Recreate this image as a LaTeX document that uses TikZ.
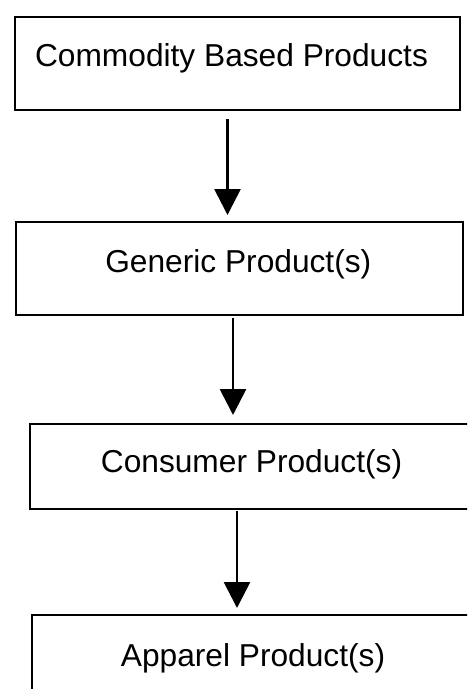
\documentclass[tikz,border=0pt]{standalone}
\usepackage{fontspec}
\setmainfont{Liberation Sans}
\usetikzlibrary{arrows.meta}
\begin{document}
\begin{tikzpicture}[x=1pt,y=-1pt,
  box/.style={draw, line width=2pt, inner sep=0pt, anchor=north west},
  lbl/.style={anchor=base, inner sep=0pt, font=\fontsize{31.7}{38}\selectfont},
  flow/.style={line width=2.8pt, -{Triangle[width=26pt,length=26pt]}}]
\useasboundingbox (0,0) rectangle (467,689);
\clip (0,0) rectangle (467,689);
\node[box, minimum width=445.5pt, minimum height=93.5pt] (b1) at (13.5,15.5) {};
\node[box, minimum width=447.2pt, minimum height=93.3pt] (b2) at (14.5,220.7) {};
\node[box, minimum width=451pt, minimum height=85.3pt] (b3) at (29,422.7) {};
\node[box, minimum width=451pt, minimum height=100pt] (b4) at (31,614) {};
\node[lbl] (t1) at (231.5,66.7) {Commodity Based Products};
\node[lbl] (t2) at (238.3,272.7) {Generic Product(s)};
\node[lbl] (t3) at (251.5,472.7) {Consumer Product(s)};
\node[lbl] (t4) at (253,666.7) {Apparel Product(s)};
\coordinate (x1) at (227.5,0);
\coordinate (x2) at (233,0);
\coordinate (x3) at (237,0);
\draw[flow] ([yshift=-8pt]b1.south -| x1) -- ([yshift=5.7pt]b2.north -| x1);
\draw[flow] ([yshift=-2pt]b2.south -| x2) -- ([yshift=7.7pt]b3.north -| x2);
\draw[flow] ([yshift=-1pt]b3.south -| x3) -- ([yshift=6pt]b4.north -| x3);
\end{tikzpicture}
\end{document}
